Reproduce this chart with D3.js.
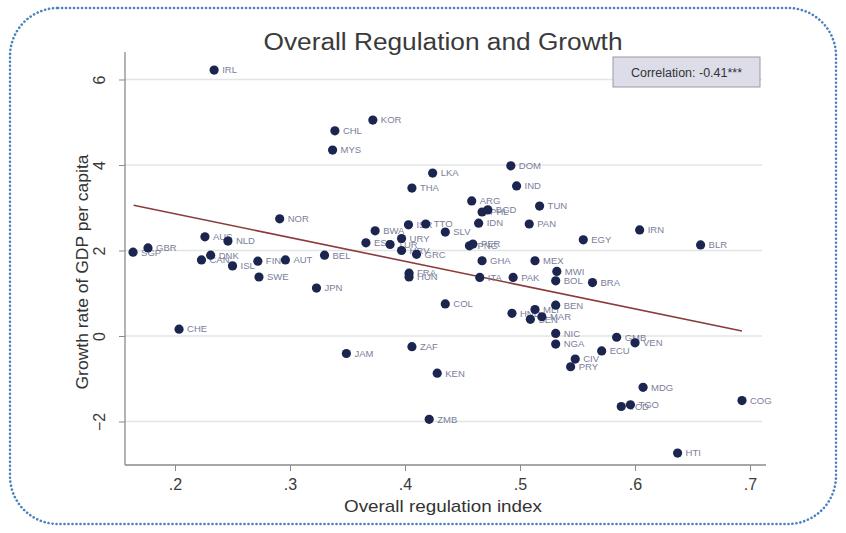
<!DOCTYPE html>
<html>
<head>
<meta charset="utf-8">
<script src="https://cdn.jsdelivr.net/npm/d3@7"></script>
<style>
  html, body { margin: 0; padding: 0; background: #fff; }
  svg { display: block; font-family: "Liberation Sans", Arial, sans-serif; }
</style>
</head>
<body>
<div id="chart"></div>
<script>
(function () {
  "use strict";

  // country codes, regulation index, growth rate
  const countries = ["IRL","KOR","CHL","MYS","LKA","THA","DOM","IND","ARG","PHL","BGD","TUN","IDN","PAN","IRN","EGY","BLR",
    "SGP","GBR","AUS","NLD","DNK","CAN","ISL","FIN","AUT","SWE","BEL","NOR","JPN","CHE",
    "BWA","ESP","TUR","URY","HRV","GRC","ISR","TTO","SLV","FRA","HUN","PNG","PER","GHA","MEX","MWI","BOL","BRA","ITA","PAK",
    "COL","HND","SEN","MLI","MAR","BEN","NIC","NGA","CIV","PRY","ECU","GMB","VEN","MDG","TGO","TCD","COG","HTI","KEN","ZAF","JAM","ZMB"];
  const regulation = [0.234,0.372,0.339,0.337,0.424,0.406,0.492,0.497,0.458,0.467,0.472,0.517,0.464,0.508,0.604,0.555,0.657,
    0.1635,0.1765,0.226,0.246,0.231,0.223,0.250,0.272,0.296,0.273,0.330,0.291,0.323,0.2035,
    0.374,0.366,0.387,0.397,0.397,0.410,0.403,0.418,0.435,0.4035,0.4035,0.456,0.459,0.467,0.513,0.532,0.531,0.563,0.465,0.494,
    0.435,0.493,0.509,0.513,0.519,0.531,0.531,0.531,0.548,0.544,0.571,0.584,0.600,0.607,0.596,0.588,0.693,0.637,0.428,0.406,0.349,0.421];
  const growth = [6.22,5.05,4.80,4.35,3.81,3.46,3.98,3.51,3.16,2.90,2.95,3.04,2.64,2.62,2.48,2.25,2.13,
    1.96,2.06,2.32,2.22,1.89,1.78,1.64,1.75,1.78,1.38,1.89,2.74,1.12,0.16,
    2.46,2.18,2.14,2.28,2.00,1.91,2.60,2.62,2.43,1.47,1.38,2.11,2.15,1.76,1.76,1.51,1.29,1.25,1.37,1.37,
    0.75,0.53,0.39,0.62,0.45,0.72,0.06,-0.19,-0.54,-0.72,-0.35,-0.03,-0.16,-1.20,-1.61,-1.65,-1.51,-2.74,-0.87,-0.25,-0.41,-1.95];

  // fitted line end points
  const fitX = [0.164, 0.693];
  const fitY = [3.06, 0.117];

  const xTicks = [0.2, 0.3, 0.4, 0.5, 0.6, 0.7];
  const xTickLabels = [".2", ".3", ".4", ".5", ".6", ".7"];
  const yTicks = [-2, 0, 2, 4, 6];

  const W = 846, H = 533;
  const PLOT = { left: 125, right: 762, top: 60, bottom: 465 };

  const svg = d3.select("#chart").append("svg")
    .attr("width", W).attr("height", H)
    .attr("viewBox", `0 0 ${W} ${H}`);

  // dotted rounded frame
  svg.append("rect")
    .attr("x", 10).attr("y", 8)
    .attr("width", W - 20).attr("height", H - 17)
    .attr("rx", 48).attr("ry", 48)
    .attr("fill", "#fff")
    .attr("stroke", "#4a82c0")
    .attr("stroke-width", 2.6)
    .attr("stroke-linecap", "round")
    .attr("stroke-dasharray", "0.1,3.9");

  const x = d3.scaleLinear().domain([0.1565, 0.7104]).range([PLOT.left, PLOT.right]);
  const y = d3.scaleLinear().domain([-3.018, 6.456]).range([PLOT.bottom, PLOT.top]);

  // gridlines
  svg.append("g").attr("class", "grid")
    .selectAll("line").data(yTicks).enter().append("line")
    .attr("x1", PLOT.left).attr("x2", PLOT.right)
    .attr("y1", d => y(d)).attr("y2", d => y(d))
    .attr("stroke", "#e2e4e6").attr("stroke-width", 1.5);

  // axes
  const xAxis = svg.append("g")
    .attr("transform", `translate(0,${PLOT.bottom})`)
    .call(d3.axisBottom(x).tickValues(xTicks).tickFormat((d, i) => xTickLabels[i]).tickSize(6).tickSizeOuter(0).tickPadding(8));
  const yAxis = svg.append("g")
    .attr("transform", `translate(${PLOT.left},0)`)
    .call(d3.axisLeft(y).tickValues(yTicks).tickFormat(d3.format("d")).tickSize(6).tickSizeOuter(0));

  [xAxis, yAxis].forEach(g => {
    g.select(".domain").attr("stroke", "#8a8a8a").attr("stroke-width", 1.3);
    g.selectAll(".tick line").attr("stroke", "#8a8a8a");
    g.selectAll(".tick text").attr("fill", "#3a3a3a").style("font-size", "16px")
      .style("font-family", "'Liberation Sans', Arial, sans-serif");
  });
  xAxis.select(".domain").attr("d", `M${PLOT.left},0H${PLOT.right + 4}`);
  yAxis.select(".domain").attr("d", `M0,${PLOT.top - 8}V${PLOT.bottom}`);

  // y tick labels rotated (Stata style)
  yAxis.selectAll(".tick text")
    .attr("x", null).attr("dy", null)
    .attr("text-anchor", "middle")
    .attr("transform", "translate(-20,0) rotate(-90)");

  // fitted line
  svg.append("line")
    .attr("x1", x(fitX[0])).attr("y1", y(fitY[0]))
    .attr("x2", x(fitX[1])).attr("y2", y(fitY[1]))
    .attr("stroke", "#8c3b3b").attr("stroke-width", 1.6);

  // points
  const pts = countries.map((c, i) => ({ name: c, rx: regulation[i], g: growth[i] }));

  svg.append("g").attr("class", "labels")
    .selectAll("text").data(pts).enter().append("text")
    .attr("x", d => x(d.rx) + 8)
    .attr("y", d => y(d.g))
    .attr("dy", "0.35em")
    .attr("font-size", "9.5px")
    .attr("fill", "#7a809a")
    .text(d => d.name);

  svg.append("g").attr("class", "points")
    .selectAll("circle").data(pts).enter().append("circle")
    .attr("cx", d => x(d.rx))
    .attr("cy", d => y(d.g))
    .attr("r", 4.6)
    .attr("fill", "#1b2550");

  // correlation box
  svg.append("rect")
    .attr("x", 613).attr("y", 57).attr("width", 147).attr("height", 30)
    .attr("fill", "#dcdde9").attr("stroke", "#9a9aa4").attr("stroke-width", 1);
  svg.append("text")
    .attr("x", 686.5).attr("y", 76.5)
    .attr("text-anchor", "middle")
    .attr("font-size", "12.5px").attr("fill", "#333")
    .text("Correlation: -0.41***");

  // title and axis titles
  svg.append("text")
    .attr("x", 443).attr("y", 50)
    .attr("text-anchor", "middle")
    .attr("font-size", "23px").attr("fill", "#3a3a3a")
    .attr("textLength", 359).attr("lengthAdjust", "spacingAndGlyphs")
    .text("Overall Regulation and Growth");

  svg.append("text")
    .attr("x", 443).attr("y", 512)
    .attr("text-anchor", "middle")
    .attr("font-size", "17px").attr("fill", "#333")
    .attr("textLength", 198).attr("lengthAdjust", "spacingAndGlyphs")
    .text("Overall regulation index");

  svg.append("text")
    .attr("transform", "translate(88,272) rotate(-90)")
    .attr("text-anchor", "middle")
    .attr("font-size", "17px").attr("fill", "#333")
    .attr("textLength", 235).attr("lengthAdjust", "spacingAndGlyphs")
    .text("Growth rate of GDP per capita");
})();
</script>
</body>
</html>
